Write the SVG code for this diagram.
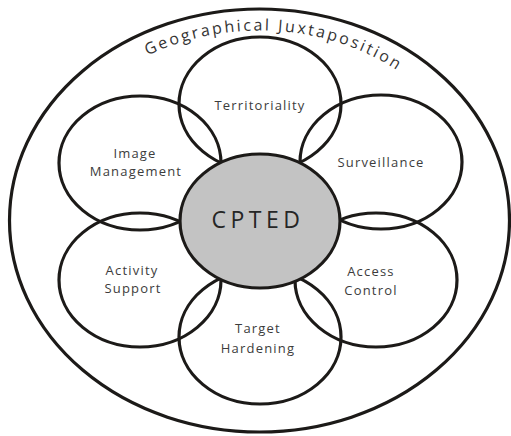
<svg xmlns="http://www.w3.org/2000/svg" width="511" height="436" viewBox="0 0 511 436">
  <style>
    .ring { fill: none; stroke: #1c1a18; stroke-width: 3.2; }
    .core { fill: #c3c3c3; stroke: #1c1a18; stroke-width: 3.2; }
    .lbl { font-family: "Open Sans", "Liberation Sans", sans-serif; font-size: 13px; fill: #3c3c3c; text-anchor: middle; letter-spacing: 1.2px; }
    .big { font-family: "Open Sans", "Liberation Sans", sans-serif; font-size: 23px; fill: #262626; text-anchor: middle; letter-spacing: 4.5px; }
    .arc { font-family: "Open Sans", "Liberation Sans", sans-serif; font-size: 16px; fill: #333333; letter-spacing: 2.4px; }
  </style>
  <defs>
    <path id="arcPath" d="M 34.5 220.5 A 225 190 0 0 1 484.5 220.5"/>
  </defs>
  <rect width="511" height="436" fill="#ffffff"/>
  <g id="outer">
    <ellipse class="ring" cx="259.5" cy="220.5" rx="250" ry="211.5"/>
    <text class="arc"><textPath href="#arcPath" startOffset="52.4%" text-anchor="middle">Geographical Juxtaposition</textPath></text>
  </g>
  <g id="territoriality">
    <ellipse class="ring" cx="260" cy="104" rx="81" ry="67"/>
    <text class="lbl" x="260" y="110">Territoriality</text>
  </g>
  <g id="image-management">
    <ellipse class="ring" cx="140" cy="163" rx="81" ry="67"/>
    <text class="lbl" x="135" y="158">Image</text>
    <text class="lbl" x="136" y="176">Management</text>
  </g>
  <g id="surveillance">
    <ellipse class="ring" cx="381" cy="162" rx="81" ry="67"/>
    <text class="lbl" x="381" y="167">Surveillance</text>
  </g>
  <g id="activity-support">
    <ellipse class="ring" cx="140" cy="280" rx="81" ry="67"/>
    <text class="lbl" x="132" y="275">Activity</text>
    <text class="lbl" x="133" y="293">Support</text>
  </g>
  <g id="access-control">
    <ellipse class="ring" cx="376" cy="280" rx="81" ry="67"/>
    <text class="lbl" x="371" y="276">Access</text>
    <text class="lbl" x="371" y="295">Control</text>
  </g>
  <g id="target-hardening">
    <ellipse class="ring" cx="260" cy="337" rx="81" ry="67"/>
    <text class="lbl" x="258" y="333">Target</text>
    <text class="lbl" x="258" y="353">Hardening</text>
  </g>
  <g id="cpted">
    <ellipse class="core" cx="260" cy="221" rx="80" ry="67"/>
    <text class="big" x="258" y="228">CPTED</text>
  </g>
  <g id="connectors"/>
</svg>
